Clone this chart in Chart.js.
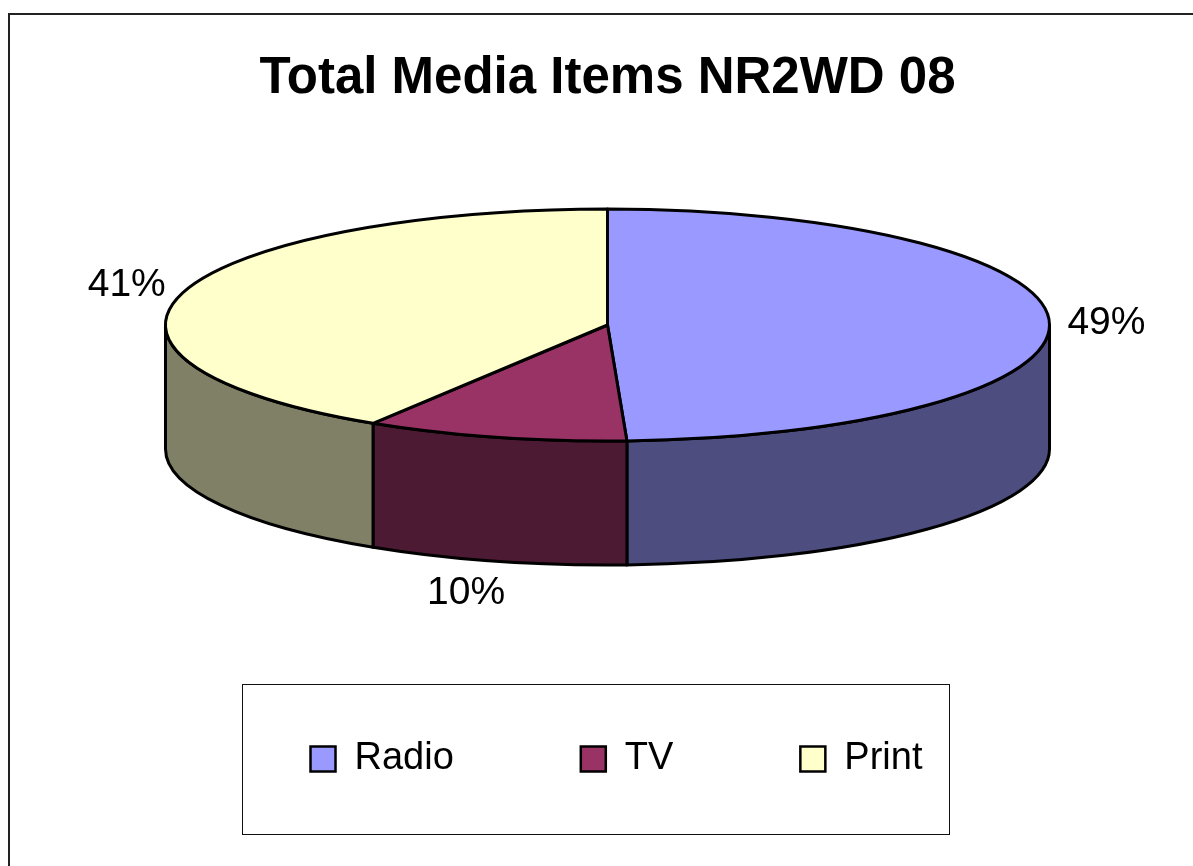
<!DOCTYPE html>
<html>
<head>
<meta charset="utf-8">
<title>Total Media Items NR2WD 08</title>
<script src="https://cdn.jsdelivr.net/npm/chart.js@4.4.1/dist/chart.umd.min.js"></script>
<style>
  html, body { margin: 0; padding: 0; background: #fff; }
  #wrap { width: 1193px; height: 866px; }
</style>
</head>
<body>
<div id="wrap"><canvas id="mediaChart" width="1193" height="866"></canvas></div>
<script>
// --- data (shares) ---
const mediaLabels = ['Radio', 'TV', 'Print'];
const mediaShares = [49.3, 9.6, 41.1];

// --- styling ---
const topColors = ['#9999FF', '#993366', '#FFFFCC'];
const sideColors = ['#4D4D80', '#4D1A33', '#808066'];

// ellipse look of the 3D pie (pixels)
const tilt = { rx: 442, ry: 116, cy: 325, depth: 124 };

Chart.defaults.font.family = '"Liberation Sans", Arial, sans-serif';
Chart.defaults.color = '#000';

const pie3d = {
  id: 'pie3d',
  beforeDraw(chart) {
    const ctx = chart.ctx;
    ctx.save();
    ctx.fillStyle = '#fff';
    ctx.fillRect(0, 0, chart.width, chart.height);
    // outer chart border, runs off right/bottom edge like the original
    ctx.strokeStyle = '#222';
    ctx.lineWidth = 2;
    ctx.strokeRect(9, 14, chart.width + 20, chart.height + 20);
    ctx.restore();
  },
  afterLayout(chart) {
    // legend items sit a little right of centre in the original
    chart.legend.left += 9;
    chart.legend.right += 9;
  },
  beforeDatasetsDraw(chart) {
    const ctx = chart.ctx;
    const arcs = chart.getDatasetMeta(0).data;
    const values = chart.data.datasets[0].data;
    const total = values.reduce((a, b) => a + b, 0);
    const cx = arcs[0].x;
    const { rx, ry, cy, depth } = tilt;

    ctx.save();
    ctx.lineWidth = 3;
    ctx.lineJoin = 'round';
    ctx.strokeStyle = '#000';

    // side walls (front half only: canvas angles 0..PI)
    arcs.forEach((arc, i) => {
      const a = Math.max(arc.startAngle, 0);
      const b = Math.min(arc.endAngle, Math.PI);
      if (a >= b) return;
      ctx.beginPath();
      ctx.ellipse(cx, cy, rx, ry, 0, a, b);
      ctx.lineTo(cx + rx * Math.cos(b), cy + ry * Math.sin(b) + depth);
      ctx.ellipse(cx, cy + depth, rx, ry, 0, b, a, true);
      ctx.closePath();
      ctx.fillStyle = sideColors[i];
      ctx.fill();
      ctx.stroke();
    });

    // top faces
    arcs.forEach((arc, i) => {
      ctx.beginPath();
      ctx.moveTo(cx, cy);
      ctx.ellipse(cx, cy, rx, ry, 0, arc.startAngle, arc.endAngle);
      ctx.closePath();
      ctx.fillStyle = topColors[i];
      ctx.fill();
      ctx.stroke();
    });

    // percent labels outside the slices
    const size = 39;
    ctx.font = size + 'px "Liberation Sans", Arial, sans-serif';
    ctx.fillStyle = '#000';
    ctx.textAlign = 'center';
    ctx.textBaseline = 'alphabetic';
    arcs.forEach((arc, i) => {
      const mid = (arc.startAngle + arc.endAngle) / 2;
      const c = Math.cos(mid), s = Math.sin(mid);
      const txt = Math.round(values[i] / total * 100) + '%';
      const w = ctx.measureText(txt).width;
      const h = size * 0.716;
      const px = cx + rx * c;
      const py = cy + ry * s + (s > 0 ? depth : 0);
      const gap = 18;
      const lx = px + (gap + w / 2) * Math.sign(c) * Math.sqrt(Math.abs(c));
      const ly = py + (gap + h / 2) * s;
      ctx.fillText(txt, lx, ly + h / 2 - 2);
    });
    ctx.restore();
    return false;
  },
  afterDraw(chart) {
    const ctx = chart.ctx;
    ctx.save();
    ctx.strokeStyle = '#111';
    ctx.lineWidth = 1;
    ctx.strokeRect(242.5, 684.5, 707, 150);
    ctx.restore();
  }
};

new Chart(document.getElementById('mediaChart'), {
  type: 'pie',
  data: {
    labels: mediaLabels,
    datasets: [{
      data: mediaShares,
      backgroundColor: topColors,
      borderColor: '#000',
      borderWidth: 2.5
    }]
  },
  options: {
    responsive: false,
    animation: false,
    layout: { padding: { left: 22, right: 0, top: 0, bottom: 78 } },
    plugins: {
      title: {
        display: true,
        text: 'Total Media Items NR2WD 08',
        color: '#000',
        font: { size: 51, weight: 'bold', lineHeight: 1 },
        padding: { top: 53, bottom: 10 }
      },
      legend: {
        position: 'bottom',
        labels: {
          color: '#000',
          font: { size: 38 },
          boxWidth: 25,
          boxHeight: 25,
          padding: 127
        }
      },
      tooltip: { enabled: false }
    }
  },
  plugins: [pie3d]
});
</script>
</body>
</html>
